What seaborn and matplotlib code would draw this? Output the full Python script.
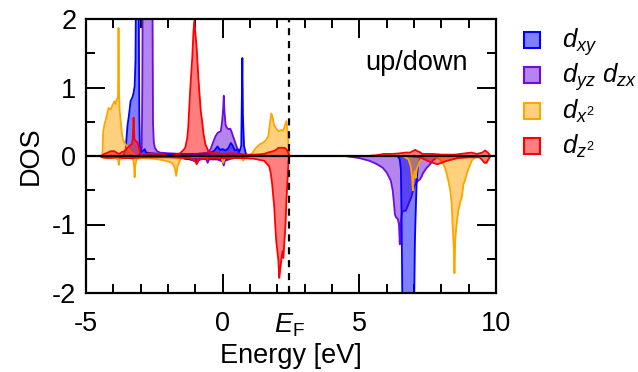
import numpy as np
import pandas as pd
import matplotlib
matplotlib.use("Agg")
import matplotlib.pyplot as plt
from matplotlib.patches import Rectangle
import seaborn as sns

# ---------------- data ----------------
orbital_labels = [r"$d_{xy}$", r"$d_{yz}\ d_{zx}$", r"$d_{x^2}$", r"$d_{z^2}$"]
fermi_energy = 2.44

# d_xy (blue)
dxy_up_E = [-3.7, -3.62, -3.55, -3.48, -3.42, -3.37, -3.30, -3.26, -3.22, -3.19, -3.16, -3.12, -3.08,
            -3.05, -3.03, -2.98, -2.90, -2.85, -2.80, -2.60, -2.30, -2.00, -1.50, -1.00, -0.50, -0.44,
            -0.30, -0.19, -0.10, 0.00, 0.10, 0.20, 0.30, 0.37, 0.45, 0.55, 0.62, 0.68, 0.70, 0.72, 0.74,
            0.78, 0.85, 0.95]
dxy_up_D = [0.0, 0.02, 0.10, 0.45, 0.62, 0.80, 0.86, 0.92, 1.02, 1.39, 3.0, 3.5, 3.0,
            0.60, 0.15, 0.06, 0.08, 0.10, 0.05, 0.04, 0.03, 0.02, 0.03, 0.03, 0.03, 0.05,
            0.08, 0.14, 0.09, 0.10, 0.08, 0.11, 0.19, 0.15, 0.08, 0.10, 0.07, 0.15, 0.8, 1.43, 0.6,
            0.15, 0.03, 0.0]
dxy_dn_E = [-1.6, -1.4, -1.2, -0.95, -0.8, -0.5, -0.2, 0.0, 0.3, 0.6, 0.9,
            6.40, 6.48, 6.52, 6.55, 6.58, 6.62, 6.70, 6.80, 6.90, 6.97, 7.00, 7.03, 7.07, 7.10, 7.15,
            7.22, 7.30]
dxy_dn_D = [0.0, -0.04, -0.05, -0.08, -0.04, -0.03, -0.04, -0.05, -0.03, -0.02, 0.0,
            0.0, -0.05, -0.2, -1.0, -2.5, -4.0, -4.0, -4.0, -3.5, -3.0, -2.4, -1.3, -0.7, -0.35, -0.12,
            -0.03, 0.0]

# d_yz, d_zx (purple)
dyz_up_E = [-3.05, -3.00, -2.96, -2.94, -2.92, -2.85, -2.70, -2.60, -2.57, -2.55, -2.52, -2.48,
            -2.40, -2.30, -2.00, -1.50, -1.00, -0.55, -0.44, -0.35, -0.26, -0.18, -0.07, -0.02, 0.02,
            0.04, 0.07, 0.11, 0.16, 0.22, 0.28, 0.33, 0.37, 0.44, 0.50, 0.56, 0.62, 0.68]
dyz_up_D = [0.0, 0.08, 0.10, 1.0, 3.0, 5.0, 5.0, 4.0, 2.5, 0.5, 0.20, 0.12,
            0.07, 0.05, 0.04, 0.03, 0.03, 0.05, 0.10, 0.20, 0.29, 0.34, 0.36, 0.50, 0.70,
            0.88, 0.62, 0.45, 0.41, 0.39, 0.40, 0.35, 0.30, 0.22, 0.15, 0.08, 0.03, 0.0]
dyz_dn_E = [-2.5, -1.5, -1.0, -0.93, -0.85, -0.60, -0.55, -0.50, -0.20, 0.00, 0.04, 0.08, 0.30, 0.60,
            0.80, 4.50, 4.63, 5.00, 5.37, 5.60, 5.85, 6.00, 6.15, 6.22, 6.27, 6.30, 6.35, 6.41, 6.45,
            6.48, 6.50, 6.52, 6.56, 6.62, 6.70, 6.80, 6.90, 7.00, 7.07, 7.15, 7.22, 7.28, 7.33, 7.45,
            7.59, 7.70, 7.81, 7.90]
dyz_dn_D = [0.0, -0.02, -0.03, -0.10, -0.04, -0.05, -0.10, -0.05, -0.05, -0.08, -0.14, -0.07, -0.04,
            -0.02, 0.0, 0.0, -0.01, -0.03, -0.07, -0.11, -0.17, -0.24, -0.36, -0.50, -0.70, -0.85,
            -0.90, -0.92, -1.00, -1.29, -1.00, -0.95, -0.82, -0.80, -0.80, -0.70, -0.60, -0.45, -0.40,
            -0.36, -0.34, -0.30, -0.25, -0.18, -0.12, -0.06, -0.03, 0.0]

# d_x2 (orange)
dx2_up_E = [-4.50, -4.40, -4.37, -4.33, -4.29, -4.22, -4.18, -4.10, -4.03, -3.96, -3.92, -3.87,
            -3.83, -3.81, -3.79, -3.77, -3.74, -3.70, -3.66, -3.60, -3.55, -3.45, -3.37, -3.25, -3.18,
            0.90, 1.04, 1.15, 1.22, 1.35, 1.50, 1.60, 1.67, 1.72, 1.78, 1.82, 1.88, 1.96, 2.05, 2.15,
            2.22, 2.28, 2.33, 2.38, 2.42, 2.44]
dx2_up_D = [0.0, 0.0, 0.36, 0.45, 0.51, 0.62, 0.70, 0.68, 0.74, 0.80, 0.76, 0.83,
            0.85, 1.87, 0.90, 0.66, 0.55, 0.38, 0.26, 0.20, 0.17, 0.12, 0.06, 0.03, 0.0,
            0.0, 0.02, 0.08, 0.12, 0.17, 0.20, 0.24, 0.29, 0.45, 0.62, 0.58, 0.45, 0.40, 0.36, 0.38,
            0.37, 0.45, 0.51, 0.35, 0.10, 0.0]
dx2_dn_E = [-4.50, -4.40, -3.95, -3.83, -3.80, -3.77, -3.50, -3.28, -3.24, -3.22, -3.20, -3.15,
            -3.00, -2.50, -2.20, -2.00, -1.85, -1.75, -1.70, -1.65, -1.55, -1.40, -0.50, -0.05, 0.02,
            0.08, 0.40, 0.70, 0.75, 0.80, 1.00,
            6.60, 6.80, 6.88, 6.93, 6.96, 6.99, 7.03, 7.06, 7.10, 7.18, 7.30, 7.50, 7.80, 7.95, 8.05,
            8.15, 8.25, 8.33, 8.38, 8.41, 8.45, 8.48, 8.51, 8.56, 8.62, 8.70, 8.75, 8.81, 8.87, 8.93,
            9.00, 9.11, 9.20, 9.30]
dx2_dn_D = [0.0, -0.02, -0.03, -0.05, -0.13, -0.04, -0.02, -0.04, -0.15, -0.31, -0.15, -0.04,
            -0.03, -0.04, -0.06, -0.08, -0.10, -0.18, -0.29, -0.15, -0.05, -0.02, -0.01, -0.02, -0.10,
            -0.03, -0.02, -0.03, -0.07, -0.02, 0.0,
            0.0, -0.05, -0.15, -0.30, -0.50, -0.30, -0.22, -0.32, -0.20, -0.10, -0.03, -0.01, -0.02,
            -0.05, -0.10, -0.19, -0.35, -0.51, -0.70, -1.00, -1.30, -1.71, -1.20, -1.00, -0.80, -0.66,
            -0.60, -0.41, -0.35, -0.26, -0.18, -0.07, -0.03, 0.0]

# d_z2 (red)
dz2_up_E = [-4.50, -4.40, -4.33, -4.20, -4.10, -3.96, -3.85, -3.78, -3.68, -3.59, -3.48, -3.40,
            -3.33, -3.29, -3.26, -3.23, -3.19, -3.11, -3.06, -3.02, -2.93, -2.80, -2.67, -2.48, -2.22,
            -2.00, -1.80, -1.56, -1.45, -1.37, -1.30, -1.26, -1.19, -1.11, -1.07, -1.04, -1.00, -0.96,
            -0.93, -0.89, -0.85, -0.80, -0.74, -0.70, -0.63, -0.52, -0.37, -0.20, 0.00, 0.30, 0.60,
            0.90, 1.20, 1.52, 1.65, 1.85, 1.96, 2.04, 2.15, 2.26, 2.33, 2.40, 2.44,
            5.30, 5.60, 5.90, 6.20, 6.50, 6.70, 6.85, 6.95, 7.05, 7.12, 7.20, 7.30, 7.50, 7.70, 8.00,
            8.50, 8.90, 9.10, 9.30, 9.50, 9.60, 9.70, 9.80]
dz2_up_D = [0.0, 0.01, 0.03, 0.05, 0.07, 0.07, 0.04, 0.03, 0.06, 0.07, 0.12, 0.15,
            0.17, 0.25, 0.56, 0.25, 0.22, 0.20, 0.12, 0.03, 0.0, 0.03, 0.04, 0.03, 0.03,
            0.0, 0.01, 0.04, 0.08, 0.12, 0.25, 0.41, 0.95, 1.45, 1.80, 1.97, 1.80, 1.62,
            1.43, 1.15, 0.92, 0.65, 0.47, 0.32, 0.17, 0.07, 0.04, 0.04, 0.03, 0.04, 0.03,
            0.02, 0.02, 0.03, 0.05, 0.07, 0.09, 0.12, 0.12, 0.12, 0.10, 0.05, 0.0,
            0.0, 0.01, 0.03, 0.03, 0.04, 0.05, 0.05, 0.07, 0.09, 0.07, 0.06, 0.03, 0.03, 0.03, 0.02,
            0.02, 0.04, 0.05, 0.03, 0.05, 0.08, 0.05, 0.0]
dz2_dn_E = [-4.50, -4.40, -4.20, -3.90, -3.60, -3.30, -3.00, -2.00, -1.20, -1.00, -0.95, -0.90,
            -0.70, -0.40, 0.00, 0.50, 0.67, 1.15, 1.52, 1.70, 1.76, 1.81, 1.89, 1.93, 1.96, 2.04,
            2.07, 2.11, 2.15, 2.19, 2.22, 2.26, 2.30, 2.33, 2.38, 2.41, 2.44,
            6.80, 7.20, 7.40, 7.55, 7.70, 7.85, 8.00, 8.20, 8.40, 8.60, 9.00, 9.40, 9.50, 9.58, 9.65,
            9.72, 9.80]
dz2_dn_D = [0.0, -0.02, -0.03, -0.02, -0.03, -0.03, -0.02, -0.02, -0.03, -0.08, -0.12, -0.06,
            -0.04, -0.03, -0.03, -0.03, -0.03, -0.04, -0.07, -0.15, -0.25, -0.41, -0.76, -1.05, -1.24,
            -1.53, -1.78, -1.64, -1.50, -1.39, -1.49, -1.24, -1.00, -0.66, -0.30, -0.07, 0.0,
            0.0, -0.02, -0.05, -0.08, -0.10, -0.12, -0.10, -0.07, -0.05, -0.03, -0.02, -0.02, -0.06,
            -0.10, -0.10, -0.05, 0.0]

x_major = [-5, 0, 5, 10]
y_major = [-2, -1, 0, 1, 2]

# ---------------- style ----------------
sns.set_theme(style="ticks")
plt.rcParams["font.family"] = ["Liberation Sans", "DejaVu Sans"]
plt.rcParams["mathtext.fontset"] = "custom"
plt.rcParams["mathtext.it"] = "Liberation Sans:italic"
plt.rcParams["mathtext.rm"] = "Liberation Sans"
plt.rcParams["mathtext.sf"] = "Liberation Sans"
plt.rcParams["axes.unicode_minus"] = False

FS = 19.5
fig = plt.figure(figsize=(6.38, 3.72), dpi=100)
ax = fig.add_axes([86 / 638, 1 - 293 / 372, 410 / 638, 274 / 372])

series = [
    ("purple", "#6a0ddd", dyz_up_E, dyz_up_D, dyz_dn_E, dyz_dn_D),
    ("blue", "#0000ff", dxy_up_E, dxy_up_D, dxy_dn_E, dxy_dn_D),
    ("orange", "#ffa500", dx2_up_E, dx2_up_D, dx2_dn_E, dx2_dn_D),
    ("red", "#ff0000", dz2_up_E, dz2_up_D, dz2_dn_E, dz2_dn_D),
]
for z, (name, col, ue, ud, de, dd) in enumerate(series):
    for E, D in ((ue, ud), (de, dd)):
        df = pd.DataFrame({"E": E, "D": D})
        ax.fill_between(df["E"], 0, df["D"], color=col, alpha=0.5, lw=0, zorder=2 + z)
        sns.lineplot(data=df, x="E", y="D", color=col, lw=1.3, sort=False,
                     estimator=None, ax=ax, zorder=2.5 + z)

ax.axhline(0, color="black", lw=1.6, zorder=10)
ax.axvline(fermi_energy, color="black", lw=1.6, ls=(0, (3.2, 2.6)), zorder=10)

ax.set_xlim(-5, 10)
ax.set_ylim(-2, 2)
ax.set_xticks(x_major + [fermi_energy])
ax.set_xticklabels([str(v) for v in x_major] + [r"$E_\mathrm{F}$"])
ax.set_xticks(np.arange(-5, 11, 1), minor=True)
ax.set_yticks(y_major)
ax.set_yticklabels([str(v) for v in y_major])
ax.set_yticks(np.arange(-2, 2.01, 0.5), minor=True)
ax.tick_params(which="major", direction="in", length=13.7, width=1.4, top=True, right=True,
               labelsize=FS, pad=7, color="black", labelcolor="black")
ax.tick_params(axis="x", which="major", pad=13)
ax.tick_params(which="minor", direction="in", length=6.5, width=1.4, top=True, right=True,
               color="black")
for t in ax.xaxis.get_major_ticks():
    if abs(t.get_loc() - fermi_energy) < 1e-6:
        t.tick1line.set_visible(False)
        t.tick2line.set_visible(False)
for s in ax.spines.values():
    s.set_linewidth(1.6)
    s.set_color("black")
    s.set_zorder(11)

ax.set_xlabel("Energy [eV]", fontsize=FS, labelpad=3, color="black")
ax.set_ylabel("DOS", fontsize=FS, labelpad=6, color="black")

ax.text((365 - 86) / 410, 1 - (70 - 19) / 274, "up/down", transform=ax.transAxes,
        fontsize=FS, ha="left", va="baseline", color="black")

# legend (patches + labels placed in figure coordinates)
leg_colors = ["#0000ff", "#6a0ddd", "#ffa500", "#ff0000"]
bottoms = [48, 83, 119, 154]
for lab, col, b in zip(orbital_labels, leg_colors, bottoms):
    r = Rectangle((524 / 638, 1 - b / 372), 16 / 638, 16 / 372, transform=fig.transFigure,
                  facecolor=matplotlib.colors.to_rgba(col, 0.5), edgecolor=col, lw=1.5)
    fig.add_artist(r)
    fig.text(562 / 638, 1 - b / 372, lab, fontsize=18.5, ha="left", va="baseline", color="black")

fig.savefig("out.png", dpi=100)
